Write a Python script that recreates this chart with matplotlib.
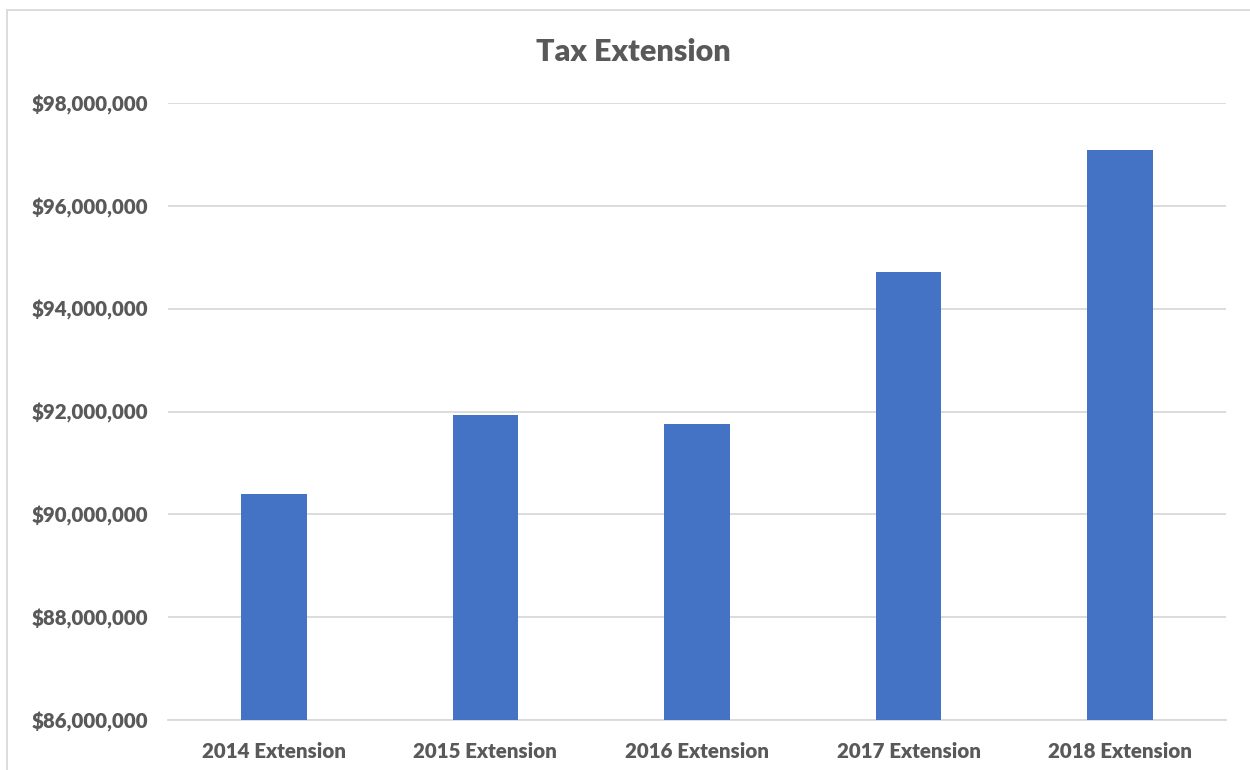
import matplotlib

matplotlib.use("Agg")
import matplotlib.pyplot as plt
from matplotlib.patches import Rectangle
from matplotlib.ticker import FuncFormatter, MultipleLocator

categories = ["2014 Extension", "2015 Extension", "2016 Extension",
              "2017 Extension", "2018 Extension"]
tax_extension = [90_390_000, 91_940_000, 91_760_000, 94_710_000, 97_080_000]

BAR_COLOR = "#4472C4"
TEXT_COLOR = "#595959"
GRID_COLOR = "#D9D9D9"

plt.rcParams["font.family"] = ["Lato", "DejaVu Sans"]

fig = plt.figure(figsize=(12.5, 7.7), dpi=100)
ax = fig.add_axes([0.1344, 0.0649, 0.8464, 0.8013])

x = range(len(categories))
ax.bar(x, tax_extension, width=0.31, color=BAR_COLOR, zorder=3)

ax.set_xlim(-0.5, len(categories) - 0.5)
ax.set_ylim(86_000_000, 98_000_000)
ax.yaxis.set_major_locator(MultipleLocator(2_000_000))
ax.yaxis.set_major_formatter(FuncFormatter(lambda v, _: f"${v:,.0f}"))
ax.set_xticks(list(x), labels=categories)

ax.grid(axis="y", color=GRID_COLOR, linewidth=1.3, zorder=0)
for side in ("top", "right", "left"):
    ax.spines[side].set_visible(False)
ax.spines["bottom"].set_color(GRID_COLOR)
ax.spines["bottom"].set_linewidth(1.3)
ax.tick_params(axis="both", length=0, labelcolor=TEXT_COLOR)
ax.tick_params(axis="y", labelsize=14.8, pad=14)
ax.tick_params(axis="x", labelsize=14.8, pad=16)
for lbl in ax.get_xticklabels() + ax.get_yticklabels():
    lbl.set_fontweight("heavy")

fig.text(0.5063, 0.932, "Tax Extension", ha="center", va="center",
         fontsize=22, fontweight="heavy", color=TEXT_COLOR)

# light chart-area frame, clipped by the image edges on the right and bottom
fig.patches.append(Rectangle((7 / 1250, -0.05), 1.2, 1 - 10 / 770 + 0.05,
                             transform=fig.transFigure, fill=False,
                             edgecolor=GRID_COLOR, linewidth=1.3))

fig.savefig("out.png", dpi=100)
